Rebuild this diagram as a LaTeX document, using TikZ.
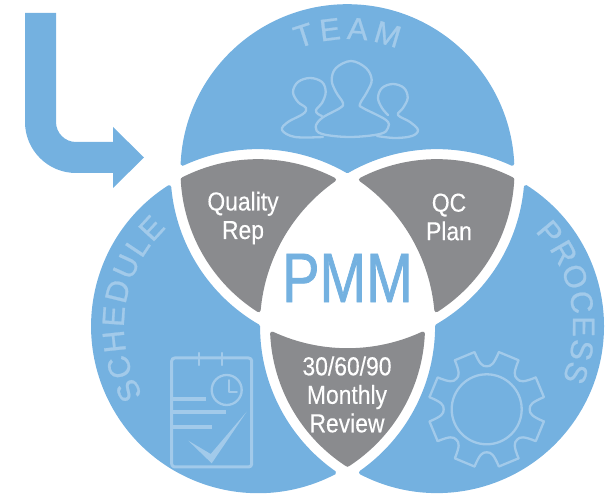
\documentclass[tikz,border=0pt]{standalone}
\usepackage{fontspec}
\setmainfont{Liberation Sans}
\newfontfamily\lobefont[FakeBold=.8]{Liberation Sans}
\newfontfamily\labelfont[FakeStretch=.88,FakeBold=.3]{Liberation Sans}
\newfontfamily\pmmfont[FakeStretch=.8,FakeBold=1]{Liberation Sans}
\usetikzlibrary{decorations.text}
\definecolor{lobeblue}{HTML}{74B1E0}
\definecolor{lobegray}{HTML}{8A8B8E}
\definecolor{iconblue}{HTML}{A2CAEA}
\tikzset{
 bluelobe/.style={fill=lobeblue,draw=lobeblue,line width=4pt,line join=round},
 graylobe/.style={fill=lobegray,draw=lobegray,line width=4pt,line join=round},
 icon/.style={draw=iconblue,line width=2.3pt,line join=round,line cap=round},
 lobelabel/.style={text=white,align=center,font=\labelfont\fontsize{26}{28.5}\selectfont},
 lobetext/.style={decorate,decoration={text along path,text align={fit to path},
   text={|\lobefont\fontsize{31}{31}\selectfont\color{iconblue}|#1}}}
}
\begin{document}
\begin{tikzpicture}[x=1pt,y=1pt]
\useasboundingbox (0,0) rectangle (606,497);
\coordinate (teamc) at (347.5,325.8);
\coordinate (schedc) at (258,170.85);
\coordinate (procc) at (437,170.85);
% arrow
\fill[lobeblue] (25,484) -- (56,484) -- (56,375) arc[start angle=180,end angle=270,radius=20pt]
 -- (113,355) -- (113,370) -- (144,339.5) -- (113,309) -- (113,324) -- (76,324)
 arc[start angle=270,end angle=180,radius=51pt] -- cycle;
% lobes
\foreach \a in {0,120,240} {
 \begin{scope}[shift={(347.5,222.5)},rotate=\a]
  \draw[bluelobe] (-164.88,110.71) arc[start angle=177.43,end angle=2.57,radius=165pt]
   arc[start angle=65.09,end angle=120,radius=179pt]
   arc[start angle=60,end angle=114.91,radius=179pt] -- cycle;
  \draw[graylobe] (0,-190.29) arc[start angle=-57.17,end angle=-2.58,radius=165pt]
   arc[start angle=-65.1,end angle=-114.9,radius=179pt]
   arc[start angle=182.58,end angle=237.17,radius=165pt] -- cycle;
 \end{scope}
}
% curved titles
\path[lobetext={TEAM}] ([shift={(112:132)}]teamc) arc[start angle=112,end angle=68,radius=132pt];
\path[lobetext={SCHEDULE}] ([shift={(211:134)}]schedc) arc[start angle=211,end angle=133,radius=134pt];
\path[lobetext={PROCESS}] ([shift={(44:136)}]procc) arc[start angle=44,end angle=-23,radius=136pt];
% labels
\node[text=lobeblue,font=\pmmfont\fontsize{70}{70}\selectfont] (pmm) at (347.5,219) {PMM};
\node[lobelabel] (quality) at (243,279) {Quality\\Rep};
\node[lobelabel] (qc) at (449,280) {QC\\Plan};
\node[lobelabel] (review) at (347,102.5) {30/60/90\\Monthly\\Review};
% team icon
\begin{scope}[shift={(0,497)},yscale=-1]
 \draw[icon] plot[smooth cycle,tension=.6] coordinates {(343,103) (336,92) (331.7,80) (336,68) (351,61) (366,68) (371.7,80) (367,92) (360,104) (363,108) (386,120) (388,128) (380,134) (350,137) (322,134) (315.7,127) (322,118) (340,108)};
 \draw[icon] plot[smooth,tension=.6] coordinates {(323,137) (295,137) (282,130) (288,122) (303,114) (306,108) (298,102) (293,92) (298,82) (310,78) (322,82) (325.7,92) (322,103) (316,110) (318,114) (322,116)};
 \draw[icon] plot[smooth,tension=.6] coordinates {(388,115) (382,108) (378,98) (382,88) (393,84) (404,88) (407.7,98) (403,108) (398,115) (410,122) (418,130) (412,136) (395,138) (377,136)};
 % schedule icon
 \draw[icon,line width=3pt,rounded corners=3pt] (171.7,358) rectangle (251.7,467);
 \foreach \x in {199,222.3} {
  \draw[icon] (\x,353) -- (\x,365);
 }
 \draw[icon] (226.7,390) circle (15);
 \draw[icon,line width=1.8pt] (229,380) -- (229,392) -- (237,392);
 \draw[icon,line width=4pt,line cap=butt] (173,399) -- (205.7,399);
 \draw[icon,line width=4pt,line cap=butt] (173,412.3) -- (225.7,412.3);
 \draw[icon,line width=4pt,line cap=butt] (173,426.7) -- (212,426.7);
 \fill[iconblue] (188.3,440.7) -- (210.7,454) -- (246.7,411.7) -- (211.7,463.3) -- cycle;
\end{scope}
% gear icon
\begin{scope}[shift={(486.7,87.7)}]
 \draw[icon] (0,0) circle (35);
 \foreach \a in {0,45,...,315} {
  \draw[icon] (\a-12:58.5) .. controls (\a-9:46) and (\a-6:43) .. (\a:43)
   .. controls (\a+6:43) and (\a+9:46) .. (\a+12:58.5) -- (\a+33:58.5);
 }
\end{scope}
\end{tikzpicture}
\end{document}
